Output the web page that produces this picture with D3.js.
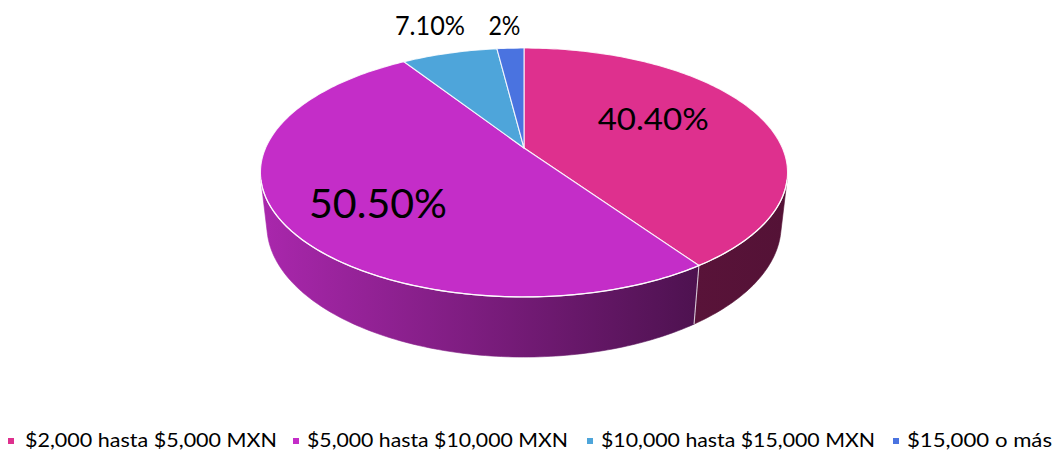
<!DOCTYPE html>
<html>
<head>
<meta charset="utf-8">
<script src="https://cdn.jsdelivr.net/npm/d3@7"></script>
<style>
  html, body { margin: 0; padding: 0; background: #ffffff; }
  svg { display: block; }
  text { font-family: Lato, "Open Sans", sans-serif; fill: #000000; }
</style>
</head>
<body>
<svg id="chart" width="1054" height="450"></svg>
<script>
// ---- data ----
const categories = ["$2,000 hasta $5,000 MXN", "$5,000 hasta $10,000 MXN", "$10,000 hasta $15,000 MXN", "$15,000 o más"];
const values = [40.4, 50.5, 7.1, 2];
const valueLabels = ["40.40%", "50.50%", "7.10%", "2%"];
const colors = ["#de308e", "#c42dc8", "#4ea5da", "#4a73e0"];

// ---- 3D view of the pie (unit radius disc, tilted back, seen in perspective) ----
const view = {
  cx: 524, cy: 148,
  tilt: Math.asin(0.463),
  dist: 4.505,
  focal: 1164,
  thickness: 0.2327
};
const cosT = Math.cos(view.tilt), sinT = Math.sin(view.tilt);

function project(theta, r, h) {
  const X = r * Math.sin(theta), Z = r * Math.cos(theta);
  const yw = h * cosT + Z * sinT;
  const dw = view.dist + Z * cosT - h * sinT;
  return [view.cx + view.focal * X / dw, view.cy - view.focal * yw / dw];
}

// outer wall faces the camera where cos(theta) < -1/(dist*cos(tilt))
const wallLimit = Math.acos(-1 / (view.dist * cosT));
const wallRange = [wallLimit, 2 * Math.PI - wallLimit];

const svg = d3.select("#chart");
const defs = svg.append("defs");
const line = d3.line();

const pie = d3.pie().sort(null).value(d => d).startAngle(0).endAngle(2 * Math.PI);
const arcs = pie(values);

function arcPoints(a0, a1, r, h) {
  const n = Math.max(2, Math.ceil(Math.abs(a1 - a0) / (Math.PI / 180)));
  return d3.range(n + 1).map(i => project(a0 + (a1 - a0) * i / n, r, h));
}

// side shading: lit from the left, darker towards the right
const leftX = project(-Math.PI / 2, 1, 0)[0] - 2;
const rightX = project(Math.PI / 2, 1, 0)[0] + 2;
const shadeStops = [[0, 0.86], [0.83, 0.40], [1, 0.38]];
arcs.forEach((a, i) => {
  const base = d3.rgb(colors[i]);
  const g = defs.append("linearGradient")
    .attr("id", "side" + i)
    .attr("gradientUnits", "userSpaceOnUse")
    .attr("x1", leftX).attr("x2", rightX).attr("y1", 0).attr("y2", 0);
  shadeStops.forEach(([o, k]) => {
    g.append("stop").attr("offset", o)
      .attr("stop-color", d3.rgb(base.r * k, base.g * k, base.b * k).formatHex());
  });
});

// outer walls (front part only)
const walls = svg.append("g");
arcs.forEach((a, i) => {
  const a0 = Math.max(a.startAngle, wallRange[0]);
  const a1 = Math.min(a.endAngle, wallRange[1]);
  if (a1 <= a0) return;
  const top = arcPoints(a0, a1, 1, 0);
  const bottom = arcPoints(a1, a0, 1, -view.thickness);
  walls.append("path")
    .attr("d", line(top.concat(bottom)) + "Z")
    .attr("fill", `url(#side${i})`)
    .attr("stroke", `url(#side${i})`)
    .attr("stroke-width", 0.6);
});
// seams between slices on the wall
arcs.forEach(a => {
  const t = a.startAngle;
  if (t > wallRange[0] && t < wallRange[1]) {
    walls.append("path")
      .attr("d", line([project(t, 1, 0), project(t, 1, -view.thickness)]))
      .attr("stroke", "#ffffff").attr("stroke-opacity", 0.75)
      .attr("stroke-width", 1.1).attr("fill", "none");
  }
});

// top faces
const tops = svg.append("g");
arcs.forEach((a, i) => {
  const pts = [project(0, 0, 0)].concat(arcPoints(a.startAngle, a.endAngle, 1, 0));
  tops.append("path")
    .attr("d", line(pts) + "Z")
    .attr("fill", colors[i])
    .attr("stroke", "#ffffff")
    .attr("stroke-opacity", 0.85)
    .attr("stroke-width", 1.1)
    .attr("stroke-linejoin", "round");
});
// light rim along the front edge of the top
tops.append("path")
  .attr("d", line(arcPoints(wallRange[0], wallRange[1], 1, 0)))
  .attr("fill", "none")
  .attr("stroke", "#ffffff")
  .attr("stroke-opacity", 0.9)
  .attr("stroke-width", 1.3);

// value labels
const labelStyle = [
  { r: 0.54, dx: 0, dy: -11, size: 31, width: 111 },
  { r: 0.632, dx: 0, dy: 10, size: 40.5, width: 138 },
  { r: 1.326, dx: 0, dy: -3, size: 26.5, width: 70 },
  { r: 1.0, dx: -6, dy: -23, size: 26.5, width: 32 }
];
const labels = svg.append("g");
arcs.forEach((a, i) => {
  const st = labelStyle[i];
  const mid = (a.startAngle + a.endAngle) / 2;
  const [x, y] = project(mid, st.r, 0);
  labels.append("text")
    .attr("x", x + st.dx)
    .attr("y", y + st.dy + 0.36 * st.size)
    .attr("text-anchor", "middle")
    .attr("font-size", st.size)
    .attr("textLength", st.width)
    .attr("lengthAdjust", "spacingAndGlyphs")
    .text(valueLabels[i]);
});

// legend
const legendLayout = [
  { mx: 8, tx: 25, w: 252 },
  { mx: 293, tx: 307, w: 261 },
  { mx: 587, tx: 601, w: 274 },
  { mx: 893, tx: 907, w: 145 }
];
const legend = svg.append("g");
categories.forEach((c, i) => {
  const L = legendLayout[i];
  legend.append("rect")
    .attr("x", L.mx).attr("y", 438)
    .attr("width", 6).attr("height", 6)
    .attr("fill", colors[i]);
  legend.append("text")
    .attr("x", L.tx).attr("y", 447)
    .attr("font-size", 19)
    .attr("textLength", L.w)
    .attr("lengthAdjust", "spacingAndGlyphs")
    .attr("fill", "#1a1a1a")
    .text(c);
});
</script>
</body>
</html>
